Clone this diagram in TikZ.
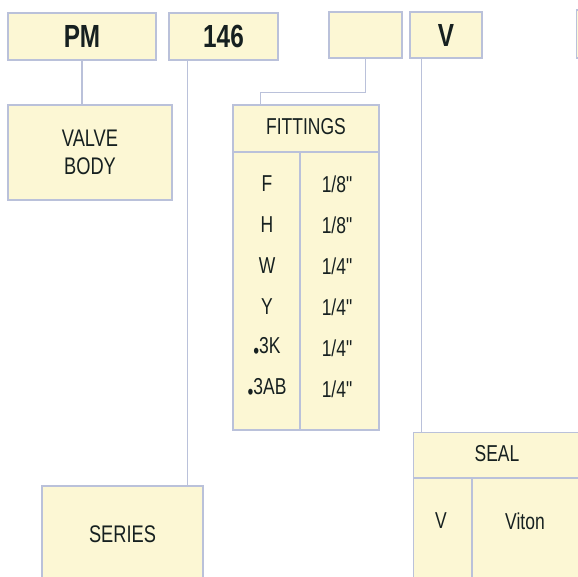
\documentclass[tikz,border=0pt]{standalone}
\usepackage{fontspec}
\setmainfont[FakeStretch=0.76]{Liberation Sans}
\usepackage{tikz}
\usepackage{xcolor}

\definecolor{boxfill}{RGB}{252,247,212}
\definecolor{boxline}{RGB}{186,193,218}
\definecolor{inkcol}{RGB}{22,32,32}

\tikzset{
    codebox/.style={draw=boxline, fill=boxfill, line width=1.2pt, inner sep=0pt,
        text=inkcol, font=\fontsize{32}{32}\selectfont\bfseries},
    infobox/.style={draw=boxline, fill=boxfill, line width=1.2pt, inner sep=0pt,
        text=inkcol, font=\fontsize{24}{28}\selectfont, align=center},
    wire/.style={draw=boxline, line width=1.2pt},
    cell/.style={text=inkcol, font=\fontsize{23}{23}\selectfont}
}

\newcommand{\dotmark}{\raisebox{-0.2em}{\fontsize{22}{22}\selectfont\textbullet}}
\newcommand{\inch}{\textquotedbl}

\begin{document}
\begin{tikzpicture}[x=1pt, y=-1pt]
        \useasboundingbox (0,0) rectangle (578,576);

        % Code boxes (top row)
        \node[codebox, minimum width=148pt, minimum height=47pt] (pm) at (82,36.5) {PM};
        \node[codebox, minimum width=109pt, minimum height=47pt] (num) at (223.5,36.5) {146};
        \node[codebox, minimum width=73pt, minimum height=46pt] (blank) at (365.5,35) {};
        \node[codebox, minimum width=72pt, minimum height=46pt] (vcode) at (446,35) {V};
        \node[codebox, minimum width=60pt, minimum height=48pt, anchor=west] (extra) at (576,34) {};

        % Valve body
        \node[infobox, minimum width=164pt, minimum height=95pt] (valve) at (90,152.5) {VALVE\\BODY};
        \draw[wire] (pm.south) -- (pm.south |- valve.north);

        % Series
        \node[infobox, minimum width=161pt, minimum height=96pt] (series) at (122.5,534) {SERIES};
        \draw[wire] ([xshift=19pt]num.south west) -- ([xshift=19pt]num.south west |- series.north);

        % Fittings table
        \node[infobox, minimum width=146pt, minimum height=325pt] (fittings) at (306,267.5) {};
        \draw[wire] (blank.south) -- ++(0,34) -| ([xshift=28pt]fittings.north west);
        \draw[wire] (233,152) -- (379,152);
        \draw[wire] (300,152) -- (300,430);
        \node[cell] (fithead) at (306,127) {FITTINGS};
        \foreach \code/\size [count=\i] in {F/1\slash 8\inch, H/1\slash 8\inch, W/1\slash 4\inch, Y/1\slash 4\inch, \dotmark 3K/1\slash 4\inch, \dotmark 3AB/1\slash 4\inch} {
            \node[cell] (fitcode\i) at (267,143+41*\i) {\code};
            \node[cell] (fitsize\i) at (338,143+41*\i) {\size};
        }

        % Seal table
        \node[infobox, minimum width=168pt, minimum height=168pt, anchor=north west] (seal) at (413,432) {};
        \draw[wire] ([xshift=12pt]vcode.south west) -- ([xshift=12pt]vcode.south west |- seal.north);
        \draw[wire] (413,478) -- (581,478);
        \draw[wire] (472,478) -- (472,600);
        \node[cell] (sealhead) at (497,454) {SEAL};
        \node[cell] (sealcode) at (441,521) {V};
        \node[cell] (sealname) at (525,521) {Viton};
    \end{tikzpicture}
\end{document}
